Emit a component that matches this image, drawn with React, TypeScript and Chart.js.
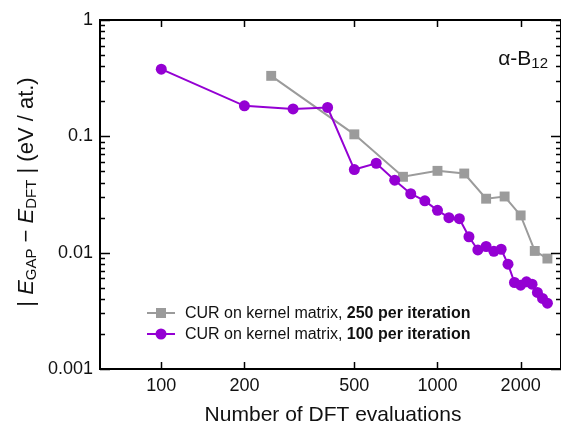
import React, { useEffect, useRef } from 'react';
import { Chart, registerables } from 'chart.js';

Chart.register(...registerables);

const xTickValues = [100, 200, 500, 1000, 2000];
const yTickValues = [0.001, 0.01, 0.1, 1];

const evals100 = [100, 200, 300, 400, 500, 600, 700, 800, 900, 1000, 1100, 1200, 1300, 1400, 1500, 1600, 1700, 1800, 1900, 2000, 2100, 2200, 2300, 2400, 2500];
const err100 = [0.378, 0.183, 0.172, 0.177, 0.0518, 0.0587, 0.042, 0.0321, 0.0279, 0.0231, 0.02, 0.0196, 0.0137, 0.01055, 0.0113, 0.01028, 0.0107, 0.00796, 0.00554, 0.00526, 0.00561, 0.00536, 0.00455, 0.00404, 0.00368];

const evals250 = [250, 500, 750, 1000, 1250, 1500, 1750, 2000, 2250, 2500];
const err250 = [0.331, 0.104, 0.0449, 0.0505, 0.0479, 0.0291, 0.0304, 0.0209, 0.01035, 0.0089];

const legendPrefix = 'CUR on kernel matrix, ';
const legend250 = '250 per iteration';
const legend100 = '100 per iteration';
const xTitle = 'Number of DFT evaluations';

const PURPLE = '#9400d3';
const GRAY = '#9b9b9b';
const FONT = '"Liberation Sans", Arial, sans-serif';

type Run = { t: string; font: string; dy?: number };

function drawRuns(ctx: CanvasRenderingContext2D, runs: Run[], x: number, y: number, align: 'left' | 'center' | 'right') {
  let total = 0;
  for (const r of runs) { ctx.font = r.font; total += ctx.measureText(r.t).width; }
  let cx = align === 'left' ? x : align === 'center' ? x - total / 2 : x - total;
  ctx.textAlign = 'left';
  for (const r of runs) {
    ctx.font = r.font;
    ctx.fillText(r.t, cx, y + (r.dy || 0));
    cx += ctx.measureText(r.t).width;
  }
}

const decorPlugin = {
  id: 'decor',
  afterDraw(chart: any) {
    const { ctx, chartArea: a, scales } = chart;
    const xs = scales.x, ys = scales.y;
    ctx.save();
    ctx.strokeStyle = '#000';
    ctx.fillStyle = '#000';
    const seg = (x1: number, y1: number, x2: number, y2: number) => {
      ctx.beginPath(); ctx.moveTo(x1, y1); ctx.lineTo(x2, y2); ctx.stroke();
    };
    ctx.lineWidth = 1.5;
    for (const v of xTickValues) {
      const px = Math.round(xs.getPixelForValue(v)) + 0.5;
      seg(px, a.top, px, a.top + 7);
      seg(px, a.bottom, px, a.bottom - 7);
    }
    for (let d = -3; d <= 0; d++) {
      for (let m = 1; m <= 9; m++) {
        const v = m * Math.pow(10, d);
        if (v > 1.0001) break;
        const py = Math.round(ys.getPixelForValue(v)) + 0.5;
        const len = m === 1 ? 10 : 5;
        seg(a.left, py, a.left + len, py);
        seg(a.right, py, a.right - len, py);
      }
    }
    ctx.lineWidth = 2;
    ctx.strokeRect(a.left, a.top, a.right - a.left, a.bottom - a.top);

    // x title
    ctx.fillStyle = '#111';
    ctx.textBaseline = 'middle';
    ctx.font = `21px ${FONT}`;
    ctx.textAlign = 'center';
    ctx.fillText(xTitle, 333, 415);

    // y title
    ctx.save();
    ctx.translate(27, 192);
    ctx.rotate(-Math.PI / 2);
    ctx.textBaseline = 'middle';
    const big = `22px ${FONT}`;
    const ital = `italic 22px ${FONT}`;
    const sub = `15px ${FONT}`;
    drawRuns(ctx, [
      { t: '| ', font: big },
      { t: 'E', font: ital },
      { t: 'GAP', font: sub, dy: 5 },
      { t: ' \u2212 ', font: big },
      { t: 'E', font: ital },
      { t: 'DFT', font: sub, dy: 5 },
      { t: ' | (eV / at.)', font: big },
    ], 0, 0, 'center');
    ctx.restore();

    // annotation
    ctx.textBaseline = 'alphabetic';
    drawRuns(ctx, [
      { t: '\u03b1-B', font: `21px ${FONT}` },
      { t: '12', font: `15px ${FONT}`, dy: 3 },
    ], 548, 65, 'right');

    // legend
    const items = [
      { color: GRAY, shape: 'rect', bold: legend250, y: 313 },
      { color: PURPLE, shape: 'circle', bold: legend100, y: 334 },
    ];
    for (const it of items) {
      ctx.strokeStyle = it.color;
      ctx.fillStyle = it.color;
      ctx.lineWidth = 2;
      seg(147, it.y, 175, it.y);
      if (it.shape === 'rect') {
        ctx.fillRect(161 - 5, it.y - 5, 10, 10);
      } else {
        ctx.beginPath(); ctx.arc(161, it.y, 5.5, 0, Math.PI * 2); ctx.fill();
      }
      ctx.fillStyle = '#111';
      ctx.textBaseline = 'middle';
      drawRuns(ctx, [
        { t: legendPrefix, font: `16px ${FONT}` },
        { t: it.bold, font: `bold 16px ${FONT}` },
      ], 185, it.y + 1, 'left');
    }
    ctx.restore();
  },
};

export default function App() {
  const ref = useRef<HTMLCanvasElement>(null);
  useEffect(() => {
    document.body.style.margin = '0';
    const canvas = ref.current!;
    const chart = new Chart(canvas, {
      type: 'line',
      data: {
        datasets: [
          {
            label: legend100,
            data: evals100.map((x, i) => ({ x, y: err100[i] })),
            borderColor: PURPLE,
            backgroundColor: PURPLE,
            borderWidth: 2,
            pointStyle: 'circle',
            pointRadius: 5.5,
            pointBorderWidth: 0,
            tension: 0,
          },
          {
            label: legend250,
            data: evals250.map((x, i) => ({ x, y: err250[i] })),
            borderColor: GRAY,
            backgroundColor: GRAY,
            borderWidth: 2,
            pointStyle: 'rect',
            pointRadius: 7,
            pointBorderWidth: 0,
            tension: 0,
          },
        ],
      },
      options: {
        animation: false,
        responsive: false,
        devicePixelRatio: 1,
        layout: { autoPadding: false, padding: { left: 0, right: 0, top: 20, bottom: 0 } },
        plugins: { legend: { display: false }, tooltip: { enabled: false } },
        scales: {
          x: {
            type: 'logarithmic',
            min: 60,
            max: 2800,
            grid: { display: false, drawTicks: false },
            border: { display: false },
            afterBuildTicks: (s: any) => { s.ticks = xTickValues.map((v) => ({ value: v })); },
            afterFit: (s: any) => { s.height = 57; s.paddingLeft = 0; s.paddingRight = 0; },
            ticks: {
              autoSkip: false,
              maxRotation: 0,
              padding: 6,
              color: '#111',
              font: { family: FONT, size: 18 },
              callback: (v: any) => String(v),
            },
          },
          y: {
            type: 'logarithmic',
            min: 0.001,
            max: 1,
            grid: { display: false, drawTicks: false },
            border: { display: false },
            afterBuildTicks: (s: any) => { s.ticks = yTickValues.map((v) => ({ value: v })); },
            afterFit: (s: any) => { s.width = 100; s.paddingTop = 0; s.paddingBottom = 0; },
            ticks: {
              autoSkip: false,
              padding: 7,
              color: '#111',
              font: { family: FONT, size: 18 },
              callback: (v: any) => String(v),
            },
          },
        },
      },
      plugins: [decorPlugin],
    });
    return () => chart.destroy();
  }, []);
  return (
    <div style={{ width: 561, height: 426 }}>
      <canvas ref={ref} width={561} height={426} style={{ display: 'block' }} />
    </div>
  );
}
